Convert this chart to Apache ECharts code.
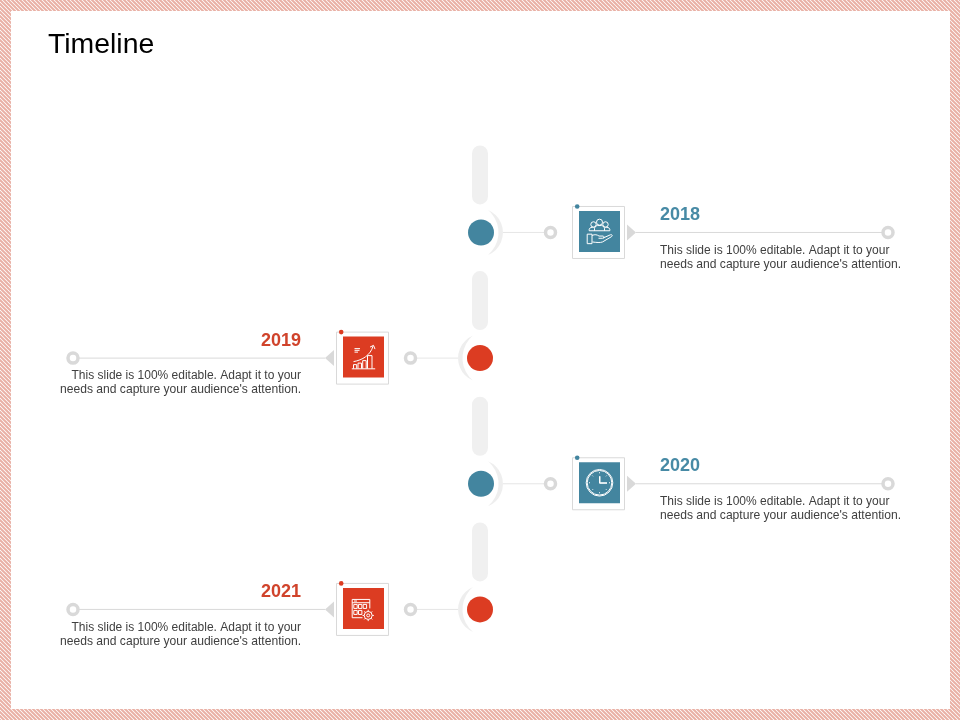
<!DOCTYPE html>
<html>
<head>
<meta charset="utf-8">
<style>html,body{margin:0;padding:0;background:#fff}#c{width:960px;height:720px}</style>
<script src="https://cdn.jsdelivr.net/npm/echarts@6/dist/echarts.min.js"></script>
</head>
<body>
<div id="c"></div>
<script>
var chartTitle = 'Timeline';
var years = [2018, 2019, 2020, 2021];
var sides = ['right', 'left', 'right', 'left'];
var iconNames = ['people', 'growth', 'clock', 'calendar'];
var descriptionLine1 = 'This slide is 100% editable. Adapt it to your';
var descriptionLine2 = "needs and capture your audience's attention.";
var sideColors = { right: '#43859f', left: '#dc3c22' };
var yearColors = { right: '#478aa5', left: '#d0432b' };

var iconPaths = {
  people: 'M-8.7 -7a2.7 2.7 0 1 0 5.4 0a2.7 2.7 0 1 0 -5.4 0z M-3 -9.300a3 3 0 1 0 6 0a3 3 0 1 0 -6 0z M3.300 -7a2.700 2.700 0 1 0 5.400 0a2.700 2.700 0 1 0 -5.400 0z ' +
    'M-10.300 -0.700v-1.500a3 3 0 0 1 3 -2h1.500M-10.300 -0.700h20.600v-1.500a3 3 0 0 0 -3 -2h-1.500 M-5 -0.700v-2.500a3 3 0 0 1 3 -2.700h4a3 3 0 0 1 3 2.700v2.500 ' +
    'M-12.300 2.700h4.800v9.500h-4.800z M-7.500 4c3 -1.300 5 -0.800 7 0.600h4c1.400 0 1.400 2.200 -0.500 2.200h-4 M3.500 6.600l7.500 -3.300c1.700 -0.500 2.400 1 1 1.900l-9 5.300c-2 0.900 -6.500 0.500 -10 0',
  growth: 'M-9 -8.500h5.500M-9 -6.800h5M-9 -5h3.500 M-11.700 11.700h23.400 M-10 11.500v-4h3.200v4 M-5.500 11.500v-5.500h3.500v5.500 M-0.800 11.500v-8h3.500v8 M4 11.500v-13h4.500v13 ' +
    'M-10 4.500c9 -1.500 17 -6.500 19.500 -15.500 M6.500 -10l3.500 -1.800l1.500 3.800',
  clock: 'M-13.300 0a13.300 13.300 0 1 0 26.600 0a13.300 13.300 0 1 0 -26.600 0z M-12.300 0a12.300 12.300 0 1 0 24.600 0a12.300 12.300 0 1 0 -24.600 0z M0 -6.500v7h7.500 M0.500 -6.500v6.500h7 ' +
    'M-0.500 -10h1M-0.500 10h1M-10 -0.500v1M10 -0.500v1M-7.200 -7.200l0.700 0.700M7.200 -7.200l-0.700 0.700M-7.200 7.200l0.700 -0.700M7.200 7.200l-0.700 -0.700',
  calendar: 'M-1 9.300h-10.300v-18.300h17.600v9 M-11.300 -5.700h17.600 M-9.500 -7.400h3 ' +
    'M-9.700 -4h3.400v4h-3.400z M-5 -4h3.400v4h-3.400z M-0.300 -4h3.400v4h-3.400z M-9.700 2h3.400v4h-3.400z M-5 2h3.400v4h-3.400z ' +
    'M0.700 7a4 4 0 1 0 8 0a4 4 0 1 0 -8 0z M3.200 7a1.500 1.500 0 1 0 3 0a1.500 1.500 0 1 0 -3 0z M4.700 1.300v1.700M4.700 11v1.700M-1 7h1.700M8.700 7h1.700M0.700 3l1.200 1.200M7.500 9.800l1.200 1.200M8.700 3l-1.200 1.200M1.900 9.800l-1.200 1.200'
};

function stripes() {
  var s = 8, cv = document.createElement('canvas');
  cv.width = s; cv.height = s;
  var g = cv.getContext('2d');
  g.fillStyle = '#ffffff'; g.fillRect(0, 0, s, s);
  g.strokeStyle = '#e9b0a5'; g.lineWidth = 2;
  [-8, 0, 8, 16].forEach(function (o) {
    g.beginPath(); g.moveTo(o - 8, -8); g.lineTo(o + 16, 16); g.stroke();
    g.beginPath(); g.moveTo(o - 4, -8); g.lineTo(o + 20, 16); g.stroke();
  });
  return cv;
}

function renderMilestone(params, api) {
  var i = params.dataIndex;
  var p = api.coord([api.value(0), api.value(1)]);
  var side = sides[i], d = side === 'right' ? 1 : -1;
  var color = sideColors[side];
  var cy = p[1];
  var cx = p[0] + (d > 0 ? 1 : 0);
  var boxX = cx + d * 117.5;
  var grey = '#d9d9d9', pale = '#eeeeee';
  function hline(a, b, stroke) {
    return { type: 'line', shape: { x1: cx + d * a, y1: cy, x2: cx + d * b, y2: cy }, style: { stroke: stroke, lineWidth: 1 } };
  }
  function ring(off) {
    return { type: 'circle', shape: { cx: cx + d * off, cy: cy, r: 5 }, style: { fill: '#fff', stroke: grey, lineWidth: 3.5 } };
  }
  function text(str, off, dy, font, fill) {
    return { type: 'text', style: { text: str, x: cx + d * off, y: cy + dy, font: font, fill: fill,
      align: d > 0 ? 'left' : 'right', verticalAlign: 'middle' } };
  }
  var crescent = 'M' + (d * 7) + ' -22.5A24.4 24.4 0 0 ' + (d > 0 ? 1 : 0) + ' ' + (d * 7) + ' 22.5' +
    'A29.3 29.3 0 0 ' + (d > 0 ? 0 : 1) + ' ' + (d * 7) + ' -22.5z';
  var bodyFont = '12px "Liberation Sans", Arial, sans-serif';
  var bodyFont2 = '12.1px "Liberation Sans", Arial, sans-serif';
  var yearFont = 'bold 18px "Liberation Sans", Arial, sans-serif';
  return { type: 'group', children: [
    { type: 'rect', shape: { x: p[0] - 8, y: cy - 87, width: 16, height: 59, r: 8 }, style: { fill: '#f0f0f0' } },
    { type: 'path', x: cx, y: cy, shape: { pathData: crescent }, style: { fill: pale } },
    { type: 'circle', shape: { cx: cx, cy: cy, r: 13 }, style: { fill: color } },
    hline(22, 63, '#e6e6e6'),
    ring(69.5),
    { type: 'rect', shape: { x: boxX - 26, y: cy - 26, width: 52, height: 52 }, style: { fill: '#fff', stroke: grey, lineWidth: 1 } },
    { type: 'rect', shape: { x: boxX - 19.5, y: cy - 21.5, width: 41, height: 41 }, style: { fill: color } },
    { type: 'circle', shape: { cx: boxX - 21.3, cy: cy - 26, r: 2.3 }, style: { fill: color } },
    { type: 'path', x: boxX + 1, y: cy - 1, shape: { pathData: iconPaths[iconNames[i]] }, style: { fill: 'none', stroke: '#fff', lineWidth: 1 } },
    { type: 'polygon', shape: { points: [[cx + d * 146, cy - 8], [cx + d * 155, cy], [cx + d * 146, cy + 8]] }, style: { fill: grey } },
    hline(155, 402, grey),
    ring(407),
    text(String(years[i]), 179, -17.5, yearFont, yearColors[side]),
    text(descriptionLine1, 179, 18, bodyFont, '#404040'),
    text(descriptionLine2, 179, 32, bodyFont2, '#404040')
  ] };
}

var chart = echarts.init(document.getElementById('c'), null, { renderer: 'canvas' });
var trunkX = 480;
chart.setOption({
  animation: false,
  backgroundColor: '#fff',
  title: { text: chartTitle, left: 43, top: 26, textStyle: { fontFamily: '"Liberation Sans", Arial, sans-serif', fontSize: 28.4, fontWeight: 'normal', color: '#000' } },
  grid: { left: 0, right: 0, top: 0, bottom: 0 },
  xAxis: { type: 'value', min: 0, max: 960, show: false },
  yAxis: { type: 'value', min: 2016.15, max: 2021.88, inverse: true, show: false },
  graphic: [
    { type: 'rect', z: -2, silent: true, shape: { x: 0, y: 0, width: 960, height: 720 }, style: { fill: { image: stripes(), repeat: 'repeat' } } },
    { type: 'rect', z: -1, silent: true, shape: { x: 11, y: 11, width: 939, height: 698 }, style: { fill: '#fff' } }
  ],
  series: [{
    type: 'custom',
    clip: false,
    silent: true,
    renderItem: renderMilestone,
    encode: { x: 0, y: 1 },
    data: years.map(function (y) { return [trunkX, y]; })
  }]
});
</script>
</body>
</html>
